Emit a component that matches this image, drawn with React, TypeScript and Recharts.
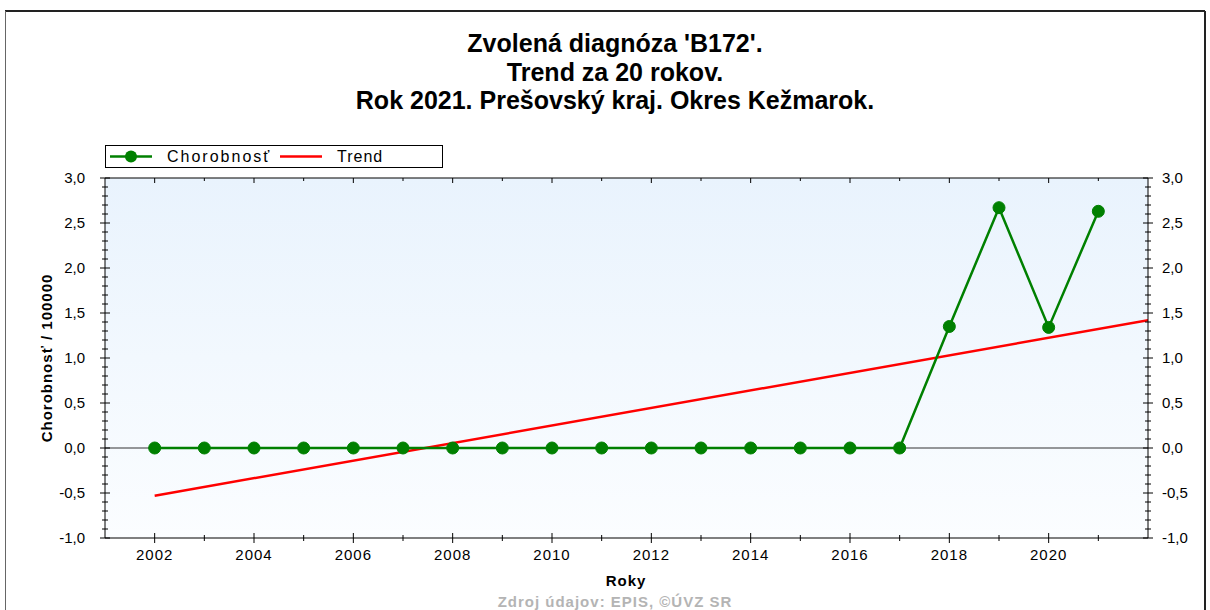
import React from "react";
import {
  ComposedChart,
  Line,
  XAxis,
  YAxis,
  CartesianGrid,
  ReferenceLine,
} from "recharts";

const years = [
  2002, 2003, 2004, 2005, 2006, 2007, 2008, 2009, 2010, 2011,
  2012, 2013, 2014, 2015, 2016, 2017, 2018, 2019, 2020, 2021,
];
const chorobnost = [
  0, 0, 0, 0, 0, 0, 0, 0, 0, 0,
  0, 0, 0, 0, 0, 0, 1.35, 2.67, 1.34, 2.63,
];
// trend line end points (linear fit)
const trendYears = [2002, 2022];
const trendValues = [-0.53, 1.42];

const xTicks = years;
const yTicks = Array.from({ length: 41 }, (_, i) => Math.round((-1 + i * 0.1) * 10) / 10);

const titleLines = [
  "Zvolená diagnóza 'B172'.",
  "Trend za 20 rokov.",
  "Rok 2021. Prešovský kraj. Okres Kežmarok.",
];

const data = years.map((y, i) => ({ year: y, value: chorobnost[i] }));
const trendData = trendYears.map((y, i) => ({ year: y, trend: trendValues[i] }));

const FONT = "Arial, 'Liberation Sans', sans-serif";
const GREEN = "#008000";
const RED = "#ff0000";

const isMajorY = (v: number) => Math.abs(v * 2 - Math.round(v * 2)) < 1e-6;
const fmtY = (v: number) => v.toFixed(1).replace(".", ",");

// eslint-disable-next-line @typescript-eslint/no-explicit-any
const BottomTick = (props: any) => {
  const { x, y, payload } = props;
  const major = payload.value % 2 === 0;
  const h = major ? 5 : 3;
  return (
    <g>
      <line x1={x} x2={x} y1={y - h} y2={y + h} stroke="#000" strokeWidth={1} />
      {major && (
        <text x={x} y={y + 22} textAnchor="middle" fontSize={15} fill="#000" fontFamily={FONT} letterSpacing={1}>
          {payload.value}
        </text>
      )}
    </g>
  );
};

// eslint-disable-next-line @typescript-eslint/no-explicit-any
const TopTick = (props: any) => {
  const { x, y, payload } = props;
  const major = payload.value % 2 === 0;
  return <line x1={x} x2={x} y1={y} y2={y + (major ? 5 : 3)} stroke="#000" strokeWidth={1} />;
};

// eslint-disable-next-line @typescript-eslint/no-explicit-any
const LeftTick = (props: any) => {
  const { x, y, payload } = props;
  const major = isMajorY(payload.value);
  const w = major ? 5 : 3;
  return (
    <g>
      <line x1={x - w} x2={x + w} y1={y} y2={y} stroke="#000" strokeWidth={1} />
      {major && (
        <text x={x - 20} y={y + 5} textAnchor="end" fontSize={15} fill="#000" fontFamily={FONT}>
          {fmtY(payload.value)}
        </text>
      )}
    </g>
  );
};

// eslint-disable-next-line @typescript-eslint/no-explicit-any
const RightTick = (props: any) => {
  const { x, y, payload } = props;
  const major = isMajorY(payload.value);
  const w = major ? 5 : 3;
  return (
    <g>
      <line x1={x - w} x2={x + w} y1={y} y2={y} stroke="#000" strokeWidth={1} />
      {major && (
        <text x={x + 14} y={y + 5} textAnchor="start" fontSize={15} fill="#000" fontFamily={FONT}>
          {fmtY(payload.value)}
        </text>
      )}
    </g>
  );
};

export default function App() {
  return (
    <div
      style={{
        position: "absolute",
        left: 0,
        top: 0,
        width: 1210,
        height: 610,
        overflow: "hidden",
        background: "#fff",
        fontFamily: FONT,
      }}
    >
      <ComposedChart
        width={1210}
        height={610}
        data={data}
        margin={{ top: 0, right: 0, bottom: 0, left: 0 }}
      >
        <defs>
          <linearGradient id="plotBg" x1="0" y1="0" x2="0" y2="1">
            <stop offset="0%" stopColor="#e9f3fd" />
            <stop offset="100%" stopColor="#fbfdff" />
          </linearGradient>
        </defs>
        <CartesianGrid horizontal={false} vertical={false} fill="url(#plotBg)" />
        <XAxis
          dataKey="year"
          type="number"
          domain={[2001, 2022]}
          allowDataOverflow
          ticks={xTicks}
          interval={0}
          height={72}
          tickSize={0}
          tickMargin={0}
          tickLine={false}
          axisLine={{ stroke: "#000", strokeWidth: 1 }}
          tick={<BottomTick />}
        />
        <XAxis
          xAxisId="top"
          orientation="top"
          dataKey="year"
          type="number"
          domain={[2001, 2022]}
          allowDataOverflow
          ticks={xTicks}
          interval={0}
          height={178}
          tickSize={0}
          tickMargin={0}
          tickLine={false}
          axisLine={{ stroke: "#000", strokeWidth: 1 }}
          tick={<TopTick />}
        />
        <YAxis
          type="number"
          domain={[-1, 3]}
          allowDataOverflow
          ticks={yTicks}
          interval={0}
          width={105}
          tickSize={0}
          tickMargin={0}
          tickLine={false}
          axisLine={{ stroke: "#000", strokeWidth: 1 }}
          tick={<LeftTick />}
        />
        <YAxis
          yAxisId="right"
          orientation="right"
          type="number"
          domain={[-1, 3]}
          allowDataOverflow
          ticks={yTicks}
          interval={0}
          width={62}
          tickSize={0}
          tickMargin={0}
          tickLine={false}
          axisLine={{ stroke: "#000", strokeWidth: 1 }}
          tick={<RightTick />}
        />
        <ReferenceLine y={0} stroke="#333" strokeWidth={1} />
        <Line
          data={trendData}
          dataKey="trend"
          name="Trend"
          stroke={RED}
          strokeWidth={2.5}
          dot={false}
          activeDot={false}
          isAnimationActive={false}
        />
        <Line
          dataKey="value"
          name="Chorobnosť"
          stroke={GREEN}
          strokeWidth={2.5}
          dot={{ r: 6, fill: GREEN, stroke: GREEN, strokeWidth: 1 }}
          activeDot={false}
          isAnimationActive={false}
        />
      </ComposedChart>

      <svg
        width={1210}
        height={610}
        style={{ position: "absolute", left: 0, top: 0, pointerEvents: "none" }}
      >
        {/* outer frame */}
        <line x1={5} x2={1205} y1={11} y2={11} stroke="#222" strokeWidth={2} />
        <line x1={5.5} x2={5.5} y1={11} y2={610} stroke="#666" strokeWidth={1} />
        <line x1={1205} x2={1205} y1={11} y2={610} stroke="#222" strokeWidth={2} />

        {titleLines.map((t, i) => (
          <text
            key={t}
            x={615}
            y={52 + i * 28.5}
            textAnchor="middle"
            fontSize={25}
            fontWeight="bold"
            fill="#000"
            fontFamily={FONT}
          >
            {t}
          </text>
        ))}

        {/* legend */}
        <rect x={105.5} y={145.5} width={337} height={22} fill="#fff" stroke="#000" strokeWidth={1} />
        <line x1={110} x2={152} y1={156.5} y2={156.5} stroke={GREEN} strokeWidth={2.5} />
        <circle cx={131} cy={156.5} r={6} fill={GREEN} />
        <text x={167} y={162} fontSize={16} fill="#000" fontFamily={FONT} letterSpacing={2}>
          Chorobnosť
        </text>
        <line x1={280} x2={322} y1={156.5} y2={156.5} stroke={RED} strokeWidth={2.5} />
        <text x={337} y={162} fontSize={16} fill="#000" fontFamily={FONT} letterSpacing={1}>
          Trend
        </text>

        <text
          x={0}
          y={0}
          transform="translate(52,358) rotate(-90)"
          textAnchor="middle"
          fontSize={15}
          fontWeight="bold"
          fill="#000"
          fontFamily={FONT}
          letterSpacing={1}
        >
          Chorobnosť / 100000
        </text>
        <text x={626} y={586} textAnchor="middle" fontSize={15} fontWeight="bold" fill="#000" fontFamily={FONT} letterSpacing={1}>
          Roky
        </text>
        <text x={615} y={607} textAnchor="middle" fontSize={15} fontWeight="bold" fill="#b4b4b4" fontFamily={FONT} letterSpacing={1}>
          Zdroj údajov: EPIS, ©ÚVZ SR
        </text>
      </svg>
    </div>
  );
}
